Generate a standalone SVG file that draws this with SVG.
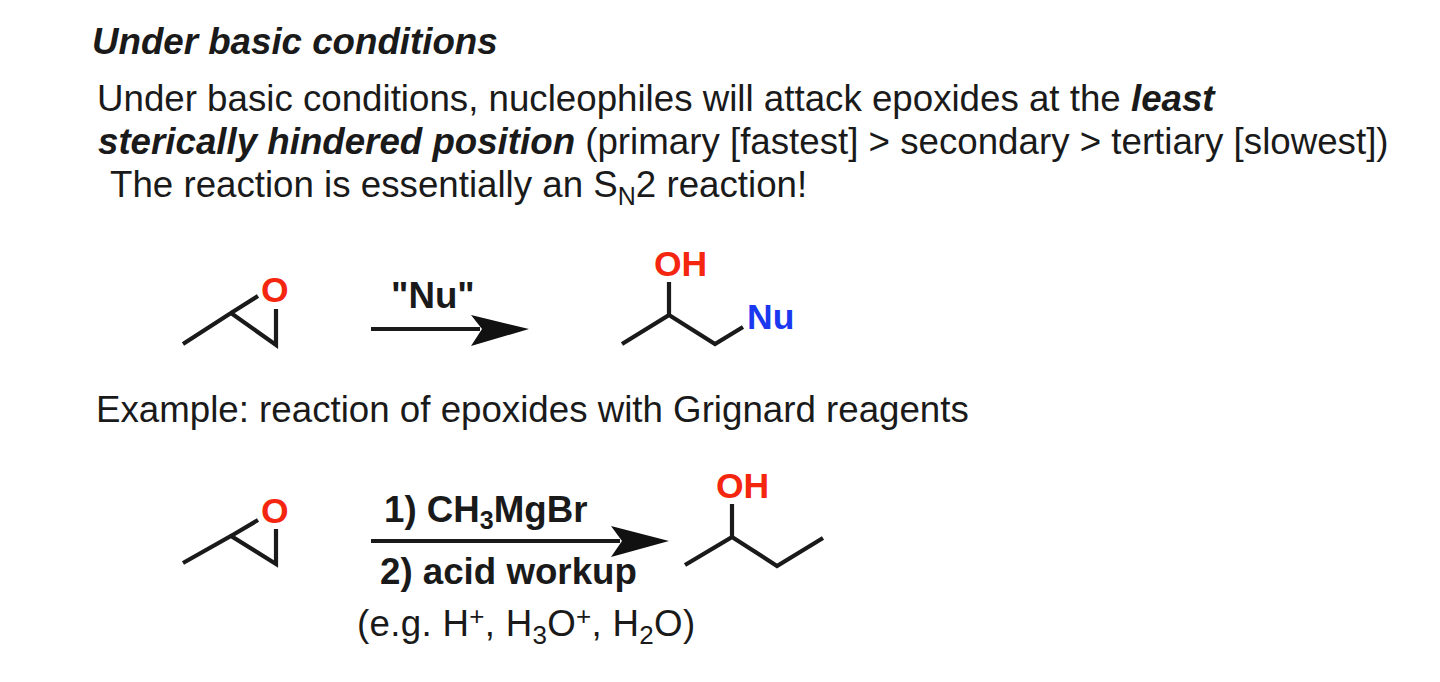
<svg xmlns="http://www.w3.org/2000/svg" width="1440" height="682" viewBox="0 0 1440 682">
<style>
text{font-family:"Liberation Sans",Arial,sans-serif;fill:#1a1a1a}
.b{font-weight:700}
.body{font-size:36.7px}
.r{font-size:36.7px;font-weight:700}
.red{fill:#f5260f;font-size:35.5px;font-weight:700}
.blue{fill:#1a38f0;font-size:35.5px;font-weight:700}
.bond{fill:none;stroke:#1a1a1a;stroke-width:4.2;stroke-linecap:butt;stroke-linejoin:miter}
.arr{stroke:#1a1a1a;stroke-width:4.2;fill:none}
.head{fill:#111}
</style>
<rect width="1440" height="682" fill="#fff"/>
<g id="heading"><text class="b" x="92" y="54" font-size="36.7" font-style="italic">Under basic conditions</text></g>
<g id="intro">
<text class="body" x="97" y="111">Under basic conditions, nucleophiles will attack epoxides at the <tspan class="b" font-style="italic">least</tspan></text>
<text class="body" x="98" y="154"><tspan class="b" font-style="italic">sterically hindered position</tspan> (primary [fastest] &gt; secondary &gt; tertiary [slowest])</text>
<text class="body" x="110" y="197">The reaction is essentially an S<tspan font-size="25" dy="8">N</tspan><tspan dy="-8">2 reaction!</tspan></text>
</g>
<g id="epoxide-1">
<path class="bond" d="M183 344L231 313L276 345V309M231 313L258 296"/>
<text class="red" x="261" y="302">O</text>
</g>
<g id="product-1">
<path class="bond" d="M622 344L669 315V282M669 315L715 344L743 327"/>
<text class="red" x="654" y="276">OH</text>
<text class="blue" x="747" y="329">Nu</text>
</g>
<g id="label-nu"><text class="r" x="391" y="308">"Nu"</text></g>
<g id="example"><text class="body" x="96" y="422">Example: reaction of epoxides with Grignard reagents</text></g>
<g id="epoxide-2">
<path class="bond" d="M183 563L231 536L276 564V529M231 536L258 520"/>
<text class="red" x="261" y="523">O</text>
</g>
<g id="product-2">
<path class="bond" d="M685 565L732 537V504M732 537L777 566L823 538"/>
<text class="red" x="716" y="498">OH</text>
</g>
<g id="reagents">
<text class="r" x="384" y="522">1) CH<tspan font-size="25" dy="7">3</tspan><tspan dy="-7">MgBr</tspan></text>
<text class="r" x="380" y="584">2) acid workup</text>
<text class="body" x="357" y="636" letter-spacing="0.3">(e.g. H<tspan font-size="26" dy="-11">+</tspan><tspan dy="11">, H</tspan><tspan font-size="26" dy="8">3</tspan><tspan dy="-8">O</tspan><tspan font-size="26" dy="-11">+</tspan><tspan dy="11">, H</tspan><tspan font-size="26" dy="8">2</tspan><tspan dy="-8">O)</tspan></text>
</g>
<g id="connectors">
<path class="arr" d="M371 329H480"/>
<path class="head" d="M529 329L471 315L482 329L471 346Z"/>
<path class="arr" d="M371 541H620"/>
<path class="head" d="M669 541L611 526L622 541L611 557Z"/>
</g>
</svg>
